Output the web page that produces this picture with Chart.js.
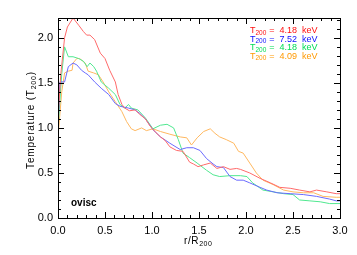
<!DOCTYPE html>
<html>
<head>
<meta charset="utf-8">
<script src="https://cdn.jsdelivr.net/npm/chart.js@4"></script>
<style>
  html, body { margin:0; padding:0; background:#fff; }
  #wrap { width:357px; height:255px; position:relative; }
</style>
</head>
<body>
<div id="wrap"><canvas id="tprof"></canvas></div>
<script>
/* temperature profiles, ovisc run */

// radius (r/R200) and temperature (T/T200) for each cluster
const redR   = [0, 0.03, 0.07, 0.10, 0.16, 0.22, 0.27, 0.305, 0.34, 0.39, 0.45, 0.50, 0.55, 0.61, 0.64, 0.68, 0.71, 0.76, 0.82, 0.87, 0.93, 0.98, 1.04, 1.09, 1.14, 1.19, 1.26, 1.33, 1.40, 1.44, 1.49, 1.55, 1.62, 1.69, 1.76, 1.83, 1.90, 1.94, 2.04, 2.15, 2.26, 2.36, 2.47, 2.57, 2.68, 2.75, 2.86, 2.96, 3.0];
const redT   = [1.1, 1.6, 2.0, 2.12, 2.22, 2.14, 2.07, 2.03, 2.03, 1.98, 1.83, 1.77, 1.64, 1.51, 1.37, 1.26, 1.22, 1.19, 1.20, 1.15, 1.10, 1.02, 0.95, 0.90, 0.86, 0.79, 0.75, 0.74, 0.62, 0.60, 0.57, 0.59, 0.61, 0.55, 0.57, 0.54, 0.55, 0.54, 0.50, 0.44, 0.39, 0.34, 0.33, 0.31, 0.29, 0.31, 0.29, 0.27, 0.27];

const blueR  = [0, 0.02, 0.07, 0.11, 0.16, 0.20, 0.25, 0.29, 0.32, 0.39, 0.46, 0.54, 0.61, 0.66, 0.75, 0.82, 0.87, 0.93, 1.01, 1.09, 1.19, 1.30, 1.37, 1.44, 1.51, 1.58, 1.65, 1.69, 1.76, 1.83, 1.90, 1.97, 2.04, 2.15, 2.22, 2.33, 2.47, 2.61, 2.75, 2.89, 2.96, 3.0];
const blueT  = [1.0, 1.51, 1.51, 1.68, 1.72, 1.70, 1.64, 1.61, 1.59, 1.51, 1.44, 1.37, 1.27, 1.24, 1.22, 1.20, 1.16, 1.10, 0.98, 0.90, 0.83, 0.76, 0.78, 0.78, 0.75, 0.66, 0.60, 0.57, 0.56, 0.46, 0.42, 0.42, 0.39, 0.34, 0.31, 0.28, 0.27, 0.26, 0.24, 0.21, 0.19, 0.19];

const greenR = [0, 0.04, 0.07, 0.11, 0.16, 0.22, 0.27, 0.31, 0.34, 0.38, 0.41, 0.46, 0.54, 0.61, 0.66, 0.71, 0.75, 0.78, 0.85, 0.93, 1.01, 1.09, 1.16, 1.23, 1.28, 1.33, 1.40, 1.48, 1.58, 1.65, 1.72, 1.83, 1.94, 2.01, 2.07, 2.18, 2.29, 2.40, 2.50, 2.57, 2.68, 2.79, 2.89, 3.0];
const greenT = [1.0, 1.6, 1.90, 1.79, 1.79, 1.77, 1.74, 1.68, 1.72, 1.68, 1.63, 1.51, 1.44, 1.37, 1.26, 1.22, 1.26, 1.22, 1.20, 1.11, 0.99, 1.03, 1.04, 1.00, 0.87, 0.72, 0.67, 0.61, 0.53, 0.48, 0.46, 0.47, 0.47, 0.46, 0.39, 0.31, 0.29, 0.27, 0.26, 0.20, 0.19, 0.18, 0.16, 0.16];

const orangeR = [0, 0.04, 0.07, 0.11, 0.15, 0.16, 0.20, 0.23, 0.29, 0.32, 0.38, 0.43, 0.48, 0.54, 0.61, 0.68, 0.73, 0.78, 0.82, 0.89, 0.94, 1.01, 1.09, 1.19, 1.30, 1.37, 1.42, 1.48, 1.55, 1.62, 1.67, 1.72, 1.79, 1.87, 1.92, 1.97, 2.04, 2.11, 2.18, 2.29, 2.40, 2.50, 2.61, 2.72, 2.82, 2.96, 3.0];
const orangeT = [0.9, 1.40, 1.61, 1.63, 1.64, 1.72, 1.77, 1.77, 1.72, 1.63, 1.61, 1.59, 1.51, 1.40, 1.29, 1.18, 1.07, 0.99, 0.97, 1.00, 0.97, 0.99, 0.96, 0.93, 0.90, 0.89, 0.81, 0.89, 0.96, 0.99, 0.94, 0.90, 0.87, 0.83, 0.74, 0.72, 0.61, 0.50, 0.42, 0.37, 0.31, 0.29, 0.28, 0.28, 0.24, 0.23, 0.23];

const legendVals = ['4.18', '7.52', '4.18', '4.09'];
const legendCols = ['#ff1010', '#1010ff', '#00dd55', '#ff9900'];
const lineCols   = ['#ff6a6a', '#6a6aff', '#50e890', '#ffb860'];

function pts(rs, ts){ return rs.map((r,i)=>({x:r, y:ts[i]})); }

const FONT = '"Liberation Sans", Arial, sans-serif';

// IDL style inward ticks, box and annotations
const idlFrame = {
  id: 'idlFrame',
  afterDraw(chart){
    const c = chart.ctx, a = chart.chartArea;
    const xs = chart.scales.x, ys = chart.scales.y;
    c.save();
    c.strokeStyle = '#000';
    c.lineWidth = 1;
    c.strokeRect(Math.round(a.left)+0.5, Math.round(a.top)+0.5, Math.round(a.right-a.left), Math.round(a.bottom-a.top));
    c.beginPath();
    for(let i=0;i<=30;i++){
      const px = Math.round(xs.getPixelForValue(i/10))+0.5;
      const len = (i%5===0) ? 6 : 3;
      c.moveTo(px, a.bottom); c.lineTo(px, a.bottom-len);
      c.moveTo(px, a.top); c.lineTo(px, a.top+len);
    }
    for(let i=0;i<=22;i++){
      const py = Math.round(ys.getPixelForValue(i/10))+0.5;
      const len = (i%5===0) ? 6 : 3;
      c.moveTo(a.left, py); c.lineTo(a.left+len, py);
      c.moveTo(a.right, py); c.lineTo(a.right-len, py);
    }
    c.stroke();

    // legend text top right
    c.textBaseline = 'alphabetic';
    legendVals.forEach((v,i)=>{
      const y = 33 + i*8.6;
      let x = 250;
      c.fillStyle = legendCols[i];
      c.font = '9px ' + FONT;
      c.fillText('T', x, y); x += c.measureText('T').width;
      c.font = '6.5px ' + FONT;
      c.fillText('200', x, y+1.5); x += c.measureText('200').width + 3;
      c.font = '9px ' + FONT;
      c.fillText('=  ' + v + '  keV', x, y);
    });

    // run label
    c.fillStyle = '#000';
    c.font = 'bold 10px ' + FONT;
    c.fillText('ovisc', 71, 206);

    // x title
    c.letterSpacing = '0.6px';
    c.font = '10px ' + FONT;
    let x = 184;
    c.fillText('r/R', x, 244); x += c.measureText('r/R').width;
    c.font = '7px ' + FONT;
    c.fillText('200', x, 246);

    // y title, rotated
    c.translate(34, 120);
    c.rotate(-Math.PI/2);
    c.letterSpacing = '0.8px';
    const s1 = 'Temperature (T', s3 = ')';
    c.font = '7px ' + FONT;
    const w2 = c.measureText('200').width;
    c.font = '10px ' + FONT;
    const w1 = c.measureText(s1).width, w3 = c.measureText(s3).width;
    let tx = -(w1+w2+w3)/2;
    c.fillText(s1, tx, 0); tx += w1;
    c.font = '7px ' + FONT;
    c.fillText('200', tx, 2); tx += w2;
    c.font = '10px ' + FONT;
    c.fillText(s3, tx, 0);
    c.restore();
  }
};

function mkSet(rs, ts, col){
  return { data: pts(rs, ts), borderColor: col, borderWidth: 1, pointRadius: 0, tension: 0, fill: false };
}

new Chart(document.getElementById('tprof'), {
  type: 'line',
  data: {
    datasets: [
      mkSet(redR, redT, lineCols[0]),
      mkSet(blueR, blueT, lineCols[1]),
      mkSet(greenR, greenT, lineCols[2]),
      mkSet(orangeR, orangeT, lineCols[3])
    ]
  },
  options: {
    responsive: true,
    maintainAspectRatio: false,
    animation: false,
    layout: { padding: { left: 0, right: 17, top: 18, bottom: 0 } },
    plugins: { legend: { display: false }, tooltip: { enabled: false } },
    scales: {
      x: {
        type: 'linear', min: 0, max: 3,
        grid: { display: false, drawTicks: false },
        border: { display: false },
        ticks: { stepSize: 0.5, includeBounds: false, padding: 6, color: '#000',
                 font: { family: FONT, size: 11 },
                 callback: v => v.toFixed(1), maxRotation: 0 },
        afterFit: s => { s.height = 37; }
      },
      y: {
        type: 'linear', min: 0, max: 2.22,
        grid: { display: false, drawTicks: false },
        border: { display: false },
        ticks: { stepSize: 0.5, includeBounds: false, padding: 5, color: '#000',
                 font: { family: FONT, size: 11 },
                 callback: v => v.toFixed(1) },
        afterFit: s => { s.width = 58; }
      }
    }
  },
  plugins: [idlFrame]
});
</script>
</body>
</html>
